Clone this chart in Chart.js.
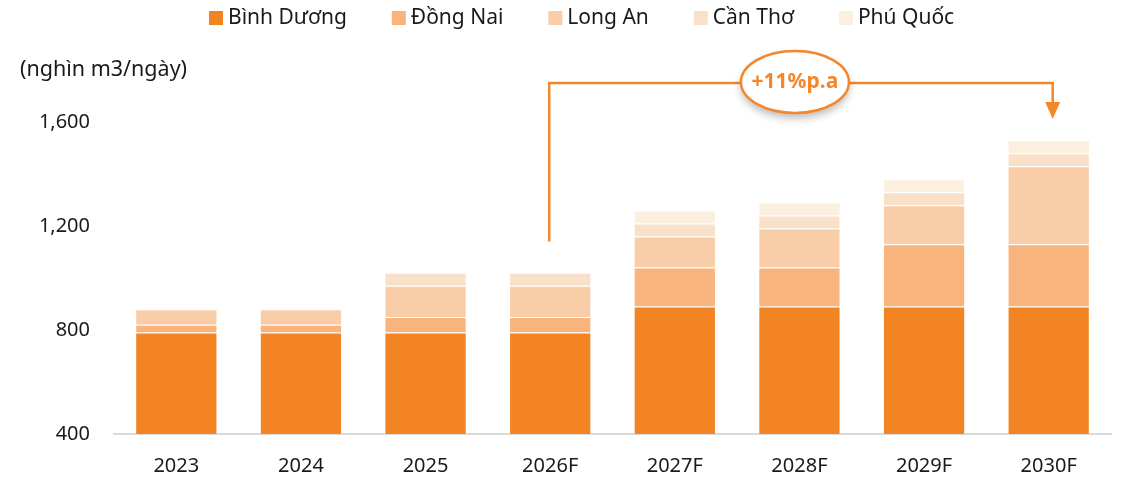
<!DOCTYPE html>
<html>
<head>
<meta charset="utf-8">
<script src="https://cdn.jsdelivr.net/npm/chart.js@4/dist/chart.umd.min.js"></script>
<style>
  html, body { margin: 0; padding: 0; background: #fff; }
  #wrap { width: 1125px; height: 479px; position: relative; }
</style>
</head>
<body>
<div id="wrap"><canvas id="CapacityChart"></canvas></div>
<script>
const years = ['2023', '2024', '2025', '2026F', '2027F', '2028F', '2029F', '2030F'];
const binhDuong = [790, 790, 790, 790, 890, 890, 890, 890];
const dongNai = [30, 30, 60, 60, 150, 150, 240, 240];
const longAn = [60, 60, 120, 120, 120, 150, 150, 300];
const canTho = [null, null, 50, 50, 50, 50, 50, 50];
const phuQuoc = [null, null, null, null, 50, 50, 50, 50];
const seriesNames = ['Bình Dương', 'Đồng Nai', 'Long An', 'Cần Thơ', 'Phú Quốc'];
const seriesColors = ['#F38423', '#F8B47C', '#F9CDA8', '#F9E0C8', '#FBEFE0'];
const yTicks = [400, 800, 1200, 1600];
const growthLabel = '+11%p.a';

const FONT = '"Noto Sans", "Open Sans", sans-serif';
const ORANGE = '#F5862A';

// legend + axis title + growth arrow, drawn on top of the chart
const extras = {
  id: 'extras',
  afterDraw(chart) {
    const ctx = chart.ctx;
    const x = chart.scales.x;
    const y = chart.scales.y;
    const area = chart.chartArea;
    ctx.save();

    // legend
    ctx.font = '21px ' + FONT;
    ctx.textBaseline = 'middle';
    let lx = 209;
    seriesNames.forEach((name, i) => {
      ctx.fillStyle = seriesColors[i];
      ctx.fillRect(lx, 11, 14, 14);
      ctx.fillStyle = '#1a1a1a';
      ctx.textAlign = 'left';
      ctx.fillText(name, lx + 19, 18);
      lx += 19 + ctx.measureText(name).width + 45;
    });

    // y axis title
    ctx.font = '21.5px ' + FONT;
    ctx.fillStyle = '#1a1a1a';
    ctx.fillText('(nghìn m3/ngày)', 20, 70);

    // growth arrow from 2026F to 2030F
    const x1 = x.getPixelForValue(3) - 1;
    const x2 = x.getPixelForValue(7) + 4;
    const yLine = area.top - 39;
    ctx.strokeStyle = ORANGE;
    ctx.lineWidth = 2.5;
    ctx.beginPath();
    ctx.moveTo(x1, y.getPixelForValue(1140));
    ctx.lineTo(x1, yLine);
    ctx.lineTo(x2, yLine);
    ctx.lineTo(x2, area.top - 18);
    ctx.stroke();
    ctx.fillStyle = ORANGE;
    ctx.beginPath();
    ctx.moveTo(x2 - 7.5, area.top - 20);
    ctx.lineTo(x2 + 7.5, area.top - 20);
    ctx.lineTo(x2, area.top - 3);
    ctx.closePath();
    ctx.fill();

    // bubble
    const cx = (x1 + x2) / 2 - 6;
    const cy = yLine - 1;
    ctx.save();
    ctx.shadowColor = 'rgba(0,0,0,0.28)';
    ctx.shadowBlur = 8;
    ctx.shadowOffsetY = 5;
    ctx.fillStyle = '#fff';
    ctx.beginPath();
    ctx.ellipse(cx, cy, 54, 31, 0, 0, Math.PI * 2);
    ctx.fill();
    ctx.restore();
    ctx.beginPath();
    ctx.ellipse(cx, cy, 54, 31, 0, 0, Math.PI * 2);
    ctx.lineWidth = 2.5;
    ctx.stroke();
    ctx.fillStyle = ORANGE;
    ctx.font = 'bold 21px ' + FONT;
    ctx.textAlign = 'center';
    ctx.fillText(growthLabel, cx, cy);

    ctx.restore();
  }
};

const datasets = [binhDuong, dongNai, longAn, canTho, phuQuoc].map((values, i) => ({
  label: seriesNames[i],
  data: values,
  backgroundColor: seriesColors[i],
  borderColor: 'rgba(255,255,255,0.35)',
  borderWidth: 1,
  barPercentage: 0.66,
  categoryPercentage: 1,
}));

new Chart(document.getElementById('CapacityChart').getContext('2d'), {
  type: 'bar',
  data: { labels: years, datasets: datasets },
  options: {
    responsive: true,
    maintainAspectRatio: false,
    animation: false,
    devicePixelRatio: 1,
    layout: { padding: { top: 122, right: 14, left: 0, bottom: 0 } },
    plugins: {
      legend: { display: false },
      tooltip: { enabled: false },
    },
    scales: {
      x: {
        stacked: true,
        grid: { display: false, drawTicks: false },
        border: { color: '#dadada', width: 2 },
        ticks: { color: '#1a1a1a', font: { family: FONT, size: 20 }, padding: 20 },
        afterFit: (scale) => { scale.height = 45; },
      },
      y: {
        stacked: true,
        min: yTicks[0],
        max: yTicks[yTicks.length - 1],
        grid: { display: false, drawTicks: false },
        border: { display: false },
        afterBuildTicks: (scale) => { scale.ticks = yTicks.map((v) => ({ value: v })); },
        ticks: {
          color: '#1a1a1a',
          font: { family: FONT, size: 20 },
          padding: 24,
          callback: (v) => v.toLocaleString('en-US'),
        },
        afterFit: (scale) => { scale.width = 114; },
      },
    },
  },
  plugins: [extras],
});
</script>
</body>
</html>
